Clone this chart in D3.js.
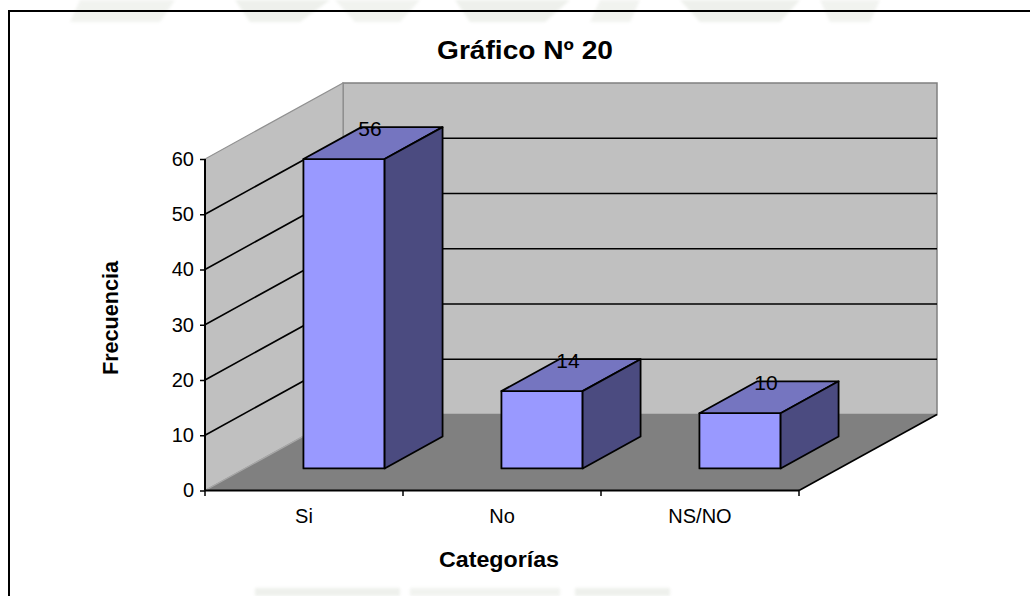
<!DOCTYPE html>
<html>
<head>
<meta charset="utf-8">
<script src="https://cdn.jsdelivr.net/npm/d3@7"></script>
<style>
  html, body { margin: 0; padding: 0; background: #fff; }
  svg { display: block; }
  text { font-family: "Liberation Sans", Arial, sans-serif; fill: #000; }
</style>
</head>
<body>
<svg id="chart" width="1030" height="596"></svg>
<script>
// Survey answers and their frequencies
const categories = ["Si", "No", "NS/NO"];
const values = [56, 14, 10];
const yTicks = [0, 10, 20, 30, 40, 50, 60];
const titleText = "Gráfico Nº 20";
const yTitle = "Frecuencia";
const xTitle = "Categorías";

const svg = d3.select("#chart");

// faint page watermark showing around the chart frame
const defs = svg.append("defs");
defs.append("filter").attr("id", "soft")
  .append("feGaussianBlur").attr("stdDeviation", 1.8);
const wm = svg.append("g").attr("opacity", 0.13).attr("filter", "url(#soft)");
const wmShapes = [
  [[80, 0], [175, 0], [160, 22], [70, 22]],
  [[235, 0], [330, 0], [300, 22], [250, 22]],
  [[335, 0], [420, 0], [400, 22], [355, 22]],
  [[455, 0], [570, 0], [545, 22], [470, 22]],
  [[600, 0], [640, 0], [630, 22], [590, 22]],
  [[680, 0], [800, 0], [780, 22], [700, 22]],
  [[820, 0], [880, 0], [870, 22], [830, 22]],
  [[255, 588], [400, 588], [400, 596], [255, 596]],
  [[410, 588], [560, 588], [560, 596], [410, 596]],
  [[575, 588], [670, 588], [670, 596], [575, 596]]
];
wm.selectAll("path").data(wmShapes).join("path")
  .attr("d", d => "M" + d.join("L") + "Z")
  .attr("fill", (d, i) => i % 2 ? "#7f9070" : "#98a58c");

// chart frame (only the top and left edges fall inside the page)
svg.append("line").attr("x1", 9).attr("x2", 1030).attr("y1", 11).attr("y2", 11)
  .attr("stroke", "#000").attr("stroke-width", 2);
svg.append("line").attr("x1", 9).attr("x2", 9).attr("y1", 10).attr("y2", 596)
  .attr("stroke", "#000").attr("stroke-width", 2);

// scales
const x = d3.scaleBand().domain(categories).range([205, 799]).padding(0);
const y = d3.scaleLinear().domain([0, 60]).range([490.5, 159]);
const DX = 138, DY = -76;           // oblique depth offset of the plot box
const zFront = 0.29, zBack = 0.71;  // bar position in depth
const barRatio = 0.41;

const P = (px, v, z) => [px + z * DX, y(v) + z * DY];
const poly = pts => "M" + pts.map(p => p.join(",")).join("L") + "Z";

const x0 = x.range()[0], x1 = x.range()[1];
const vMax = yTicks[yTicks.length - 1];

const plot = svg.append("g");

// back wall
plot.append("path")
  .attr("d", poly([P(x0, 0, 1), P(x1, 0, 1), P(x1, vMax, 1), P(x0, vMax, 1)]))
  .attr("fill", "#c0c0c0").attr("stroke", "#808080").attr("stroke-width", 1.5);
// left wall
plot.append("path")
  .attr("d", poly([P(x0, 0, 0), P(x0, 0, 1), P(x0, vMax, 1), P(x0, vMax, 0)]))
  .attr("fill", "#c0c0c0").attr("stroke", "#909090").attr("stroke-width", 1.2);
// floor
plot.append("path")
  .attr("d", poly([P(x0, 0, 0), P(x1, 0, 0), P(x1, 0, 1), P(x0, 0, 1)]))
  .attr("fill", "#808080").attr("stroke", "none");
// floor right edge
plot.append("line")
  .attr("x1", P(x1, 0, 0)[0]).attr("y1", P(x1, 0, 0)[1])
  .attr("x2", P(x1, 0, 1)[0]).attr("y2", P(x1, 0, 1)[1])
  .attr("stroke", "#000").attr("stroke-width", 1.6);
// floor / left wall seam
plot.append("line")
  .attr("x1", P(x0, 0, 0)[0]).attr("y1", P(x0, 0, 0)[1])
  .attr("x2", P(x0, 0, 1)[0]).attr("y2", P(x0, 0, 1)[1])
  .attr("stroke", "#a8a8a8").attr("stroke-width", 1.2);

// gridlines on both walls
const gridVals = yTicks.filter(v => v > 0 && v < vMax);
const grid = plot.append("g").attr("stroke", "#000").attr("stroke-width", 1.6);
grid.selectAll("line.back").data(gridVals).join("line").attr("class", "back")
  .attr("x1", v => P(x0, v, 1)[0]).attr("y1", v => P(x0, v, 1)[1])
  .attr("x2", v => P(x1, v, 1)[0]).attr("y2", v => P(x1, v, 1)[1]);
grid.selectAll("line.side").data(gridVals).join("line").attr("class", "side")
  .attr("x1", v => P(x0, v, 0)[0]).attr("y1", v => P(x0, v, 0)[1])
  .attr("x2", v => P(x0, v, 1)[0]).attr("y2", v => P(x0, v, 1)[1]);

// bars as boxes: front, top and side faces
const bw = x.bandwidth() * barRatio;
const bars = plot.selectAll("g.bar").data(categories.map((c, i) => ({ c, v: values[i] })))
  .join("g").attr("class", "bar")
  .attr("stroke", "#000").attr("stroke-width", 1.8).attr("stroke-linejoin", "round");
const bl = d => x(d.c) + (x.bandwidth() - bw) / 2;
bars.append("path")
  .attr("d", d => poly([P(bl(d), 0, zFront), P(bl(d) + bw, 0, zFront), P(bl(d) + bw, d.v, zFront), P(bl(d), d.v, zFront)]))
  .attr("fill", "#9999ff");
bars.append("path")
  .attr("d", d => poly([P(bl(d), d.v, zFront), P(bl(d) + bw, d.v, zFront), P(bl(d) + bw, d.v, zBack), P(bl(d), d.v, zBack)]))
  .attr("fill", "#7575c0");
bars.append("path")
  .attr("d", d => poly([P(bl(d) + bw, 0, zFront), P(bl(d) + bw, 0, zBack), P(bl(d) + bw, d.v, zBack), P(bl(d) + bw, d.v, zFront)]))
  .attr("fill", "#4b4b80");

// value labels above each box
const zMid = (zFront + zBack) / 2;
plot.selectAll("text.val").data(categories.map((c, i) => ({ c, v: values[i] })))
  .join("text").attr("class", "val")
  .attr("x", d => P(x(d.c) + x.bandwidth() / 2, d.v, zMid)[0] - 3)
  .attr("y", d => P(x(d.c) + x.bandwidth() / 2, d.v, zMid)[1] - 7)
  .attr("text-anchor", "middle").attr("font-size", 21).attr("fill", "#111")
  .text(d => d.v);

// value axis
const yAxis = svg.append("g").attr("transform", `translate(${x0},0)`)
  .call(d3.axisLeft(y).tickValues(yTicks).tickSize(5).tickPadding(6).tickFormat(d3.format("d")));
yAxis.select(".domain").attr("stroke", "#000").attr("stroke-width", 2).attr("d", `M0,${y(0)}V${y(vMax)}`);
yAxis.selectAll(".tick line").attr("stroke", "#000").attr("stroke-width", 1.5);
yAxis.selectAll(".tick text").attr("font-size", 20).attr("font-family", "Liberation Sans, Arial, sans-serif").attr("fill", "#000");

// category axis along the front edge of the floor
const xAxisG = svg.append("g");
xAxisG.append("line").attr("x1", x0).attr("x2", x1).attr("y1", y(0)).attr("y2", y(0))
  .attr("stroke", "#000").attr("stroke-width", 2);
const bounds = categories.map(c => x(c)).concat([x1]);
xAxisG.selectAll("line.tk").data(bounds).join("line").attr("class", "tk")
  .attr("x1", d => d).attr("x2", d => d).attr("y1", y(0)).attr("y2", y(0) + 5.5)
  .attr("stroke", "#000").attr("stroke-width", 1.5);
xAxisG.selectAll("text").data(categories).join("text")
  .attr("x", c => x(c) + x.bandwidth() / 2).attr("y", 523)
  .attr("text-anchor", "middle").attr("font-size", 20)
  .text(c => c);

// titles
svg.append("text").attr("x", 525).attr("y", 59).attr("text-anchor", "middle")
  .attr("font-size", 26).attr("font-weight", "bold")
  .attr("textLength", 176).attr("lengthAdjust", "spacingAndGlyphs")
  .text(titleText);
svg.append("text").attr("transform", "translate(118,318) rotate(-90)")
  .attr("text-anchor", "middle").attr("font-size", 22).attr("font-weight", "bold")
  .attr("textLength", 114).attr("lengthAdjust", "spacingAndGlyphs")
  .text(yTitle);
svg.append("text").attr("x", 499).attr("y", 567).attr("text-anchor", "middle")
  .attr("font-size", 22).attr("font-weight", "bold")
  .attr("textLength", 120).attr("lengthAdjust", "spacingAndGlyphs")
  .text(xTitle);
</script>
</body>
</html>
